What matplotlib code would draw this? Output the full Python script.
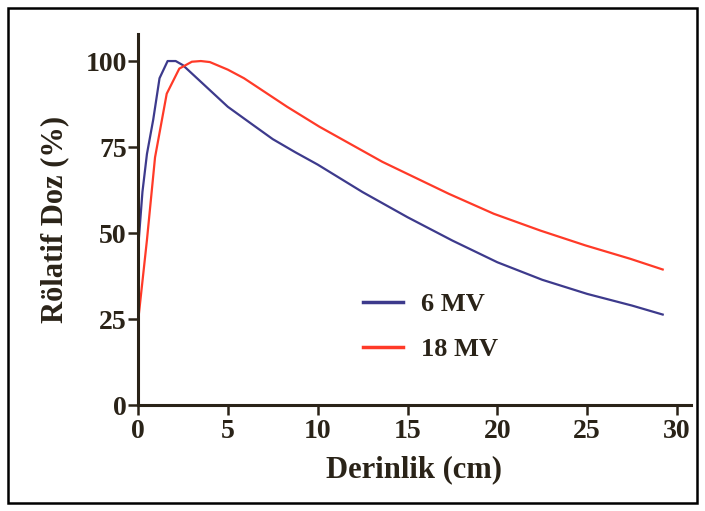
import matplotlib
matplotlib.use("Agg")
import matplotlib.pyplot as plt
from matplotlib.patches import Rectangle

# Derinlik doz verileri
depth_6mv = [0, 0.25, 0.5, 0.85, 1.2, 1.65, 2.1, 2.5, 5, 6.3, 7.5, 8.75, 10, 12.5, 15, 17.5, 20, 22.5, 25, 27.5, 29.2]
dose_6mv = [45, 62, 73, 83, 95, 100, 100, 98.8, 86.7, 81.8, 77.3, 73.5, 69.9, 61.9, 54.6, 47.8, 41.5, 36.4, 32.3, 28.9, 26.3]

depth_18mv = [0, 0.5, 0.95, 1.6, 2.3, 3.0, 3.5, 4.0, 5.0, 5.9, 8.3, 10.1, 13.6, 17.3, 19.8, 22.4, 24.9, 27.4, 29.2]
dose_18mv = [24, 48, 72, 90.5, 97.8, 99.8, 100, 99.7, 97.5, 95, 86.7, 80.9, 70.7, 61.4, 55.6, 50.7, 46.4, 42.5, 39.4]

xticks = [0, 5, 10, 15, 20, 25, 30]
yticks = [0, 25, 50, 75, 100]

ink = '#2a2318'
plt.rcParams['font.family'] = ['Liberation Serif', 'DejaVu Serif']

fig = plt.figure(figsize=(7.05, 5.11), dpi=100)
ax = fig.add_axes([0.1957, 0.2074, 0.7838, 0.727])

ax.plot(depth_6mv, dose_6mv, color='#3d3a8c', linewidth=1.6, label='6 MV')
ax.plot(depth_18mv, dose_18mv, color='#ff3a28', linewidth=1.6, label='18 MV')

ax.set_xlim(0, 30.75)
ax.set_ylim(0, 108)
ax.set_xticks(xticks)
ax.set_yticks(yticks)

for s in ['top', 'right']:
    ax.spines[s].set_visible(False)
for s in ['left', 'bottom']:
    ax.spines[s].set_linewidth(2.2)
    ax.spines[s].set_color(ink)

ax.tick_params(axis='both', direction='out', length=7, width=1.8, colors=ink,
               labelsize=20, labelcolor=ink)
ax.tick_params(axis='y', pad=1)
ax.tick_params(axis='x', pad=3)
for lab in ax.get_xticklabels() + ax.get_yticklabels():
    lab.set_fontweight('bold')

ax.set_xlabel('Derinlik (cm)', fontsize=22, color=ink, fontweight='bold', labelpad=8)
ax.set_ylabel('Rölatif Doz (%)', fontsize=22, color=ink, fontweight='bold', labelpad=12)

leg = ax.legend(loc='center left', bbox_to_anchor=(0.365, 0.21), frameon=False,
                handlelength=1.5, handletextpad=0.7, labelspacing=0.8,
                prop={'weight': 'bold', 'size': 19})
for t in leg.get_texts():
    t.set_color(ink)
for h in leg.get_lines():
    h.set_linewidth(2.5)

# dış çerçeve
fig.patches.append(Rectangle((8 / 705, 8 / 511), 689 / 705, 495 / 511, transform=fig.transFigure,
                             fill=False, edgecolor='black', linewidth=1.8))

fig.savefig('out.png', dpi=100)
